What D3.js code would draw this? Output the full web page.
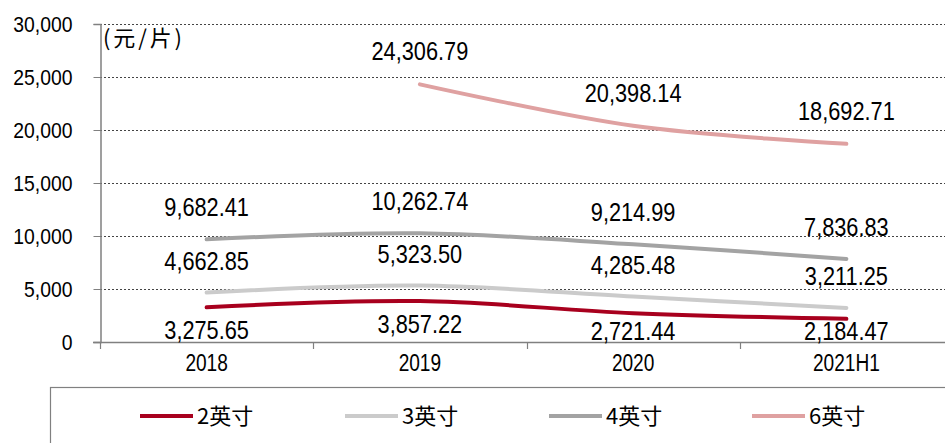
<!DOCTYPE html>
<html>
<head>
<meta charset="utf-8">
<script src="https://cdn.jsdelivr.net/npm/d3@7/dist/d3.min.js"></script>
<style>
  html, body { margin: 0; padding: 0; background: #fff; }
  svg { display: block; }
  text { font-family: "Liberation Sans", Arial, sans-serif; fill: #000; }
  .cjk { font-family: "Noto Sans CJK SC", sans-serif; }
</style>
</head>
<body>
<svg id="chart" width="945" height="443"></svg>
<script>
// Categories and per-size prices (元/片)
const categories = ["2018", "2019", "2020", "2021H1"];
const seriesNames = ["2英寸", "3英寸", "4英寸", "6英寸"];
const values2in = [3275.65, 3857.22, 2721.44, 2184.47];
const values3in = [4662.85, 5323.50, 4285.48, 3211.25];
const values4in = [9682.41, 10262.74, 9214.99, 7836.83];
const values6in = [null, 24306.79, 20398.14, 18692.71];
const yTicks = [0, 5000, 10000, 15000, 20000, 25000, 30000];
const unitLabel = "(元/片)";

const series = [
  { name: seriesNames[0], values: values2in, color: "#A8001E", labelDy: 23, below: true },
  { name: seriesNames[1], values: values3in, color: "#CBCBCB", labelDy: -32 },
  { name: seriesNames[2], values: values4in, color: "#A3A3A3", labelDy: -32 },
  { name: seriesNames[3], values: values6in, color: "#DFA1A1", labelDy: -33 }
];

const svg = d3.select("#chart");

const x = d3.scaleBand().domain(categories).range([100, 953]).padding(0);
const y = d3.scaleLinear().domain([0, 30000]).range([342, 24]);
const cx = c => x(c) + x.bandwidth() / 2;

// squeeze a text element horizontally to give a narrower typeface look
function condense(sel, k) {
  sel.each(function () {
    const w = this.getComputedTextLength();
    d3.select(this).attr("textLength", w * k).attr("lengthAdjust", "spacingAndGlyphs");
  });
}

// dotted gridlines
svg.append("g")
  .selectAll("line")
  .data(yTicks.filter(v => v > 0))
  .join("line")
  .attr("x1", 100).attr("x2", 945)
  .attr("y1", d => Math.round(y(d)) + 0.5).attr("y2", d => Math.round(y(d)) + 0.5)
  .attr("stroke", "#444").attr("stroke-width", 1).attr("stroke-dasharray", "2,2");

// y axis
const yAxis = svg.append("g")
  .attr("transform", "translate(100.5,0)")
  .call(d3.axisLeft(y).tickValues(yTicks).tickFormat(d3.format(",")).tickSize(7).tickPadding(21));
yAxis.select(".domain").attr("stroke", "#808080").attr("stroke-width", 1.5);
yAxis.selectAll(".tick line").attr("stroke", "#808080");
yAxis.selectAll(".tick text")
  .attr("font-size", 22).attr("fill", "#000")
  .style("font-family", "'Liberation Sans', Arial, sans-serif")
  .call(condense, 0.88);

// x axis line and band-edge ticks
svg.append("line")
  .attr("x1", 93).attr("x2", 945).attr("y1", 342.5).attr("y2", 342.5)
  .attr("stroke", "#808080").attr("stroke-width", 1.5);
svg.append("g")
  .selectAll("line")
  .data(categories)
  .join("line")
  .attr("x1", d => Math.round(x(d)) + 0.5).attr("x2", d => Math.round(x(d)) + 0.5)
  .attr("y1", 342).attr("y2", 349)
  .attr("stroke", "#808080").attr("stroke-width", 1.2);
svg.append("g")
  .selectAll("text")
  .data(categories)
  .join("text")
  .attr("x", d => cx(d)).attr("y", 371)
  .attr("text-anchor", "middle")
  .attr("font-size", 23)
  .text(d => d)
  .call(condense, 0.83);

// unit label
svg.append("text")
  .attr("class", "cjk")
  .attr("x", 103).attr("y", 46)
  .attr("font-size", 22)
  .attr("textLength", 79).attr("lengthAdjust", "spacing")
  .text(unitLabel);

// smoothed lines
const line = d3.line()
  .defined(d => d.v != null)
  .x(d => cx(d.c))
  .y(d => y(d.v))
  .curve(d3.curveCatmullRom.alpha(0.5));

series.forEach(s => {
  const pts = categories.map((c, i) => ({ c, v: s.values[i] }));
  svg.append("path")
    .datum(pts)
    .attr("fill", "none")
    .attr("stroke", s.color)
    .attr("stroke-width", 4)
    .attr("stroke-linecap", "round")
    .attr("d", line);
});

// value labels; labels under the lowest line stay just above the axis
const fmt = d3.format(",.2f");
series.forEach(s => {
  svg.append("g")
    .selectAll("text")
    .data(categories.map((c, i) => ({ c, v: s.values[i] })).filter(d => d.v != null))
    .join("text")
    .attr("x", d => cx(d.c))
    .attr("y", d => s.below ? Math.min(y(d.v) + s.labelDy, 331) : y(d.v) + s.labelDy)
    .attr("dy", "0.36em")
    .attr("text-anchor", "middle")
    .attr("font-size", 25)
    .text(d => fmt(d.v))
    .call(condense, 0.87);
});

// legend box
svg.append("rect")
  .attr("x", 50.5).attr("y", 387.5).attr("width", 900).attr("height", 80)
  .attr("fill", "none").attr("stroke", "#808080").attr("stroke-width", 1.2);

const legendX = [140, 345, 549, 752];
const legend = svg.append("g")
  .selectAll("g")
  .data(series)
  .join("g")
  .attr("transform", (d, i) => `translate(${legendX[i]},416)`);
legend.append("line")
  .attr("x1", 0).attr("x2", 53).attr("y1", 0).attr("y2", 0)
  .attr("stroke", d => d.color).attr("stroke-width", 4);
legend.append("text")
  .attr("class", "cjk")
  .attr("x", 57).attr("y", 0).attr("dy", "0.36em")
  .attr("font-size", 22)
  .text(d => d.name);
</script>
</body>
</html>
